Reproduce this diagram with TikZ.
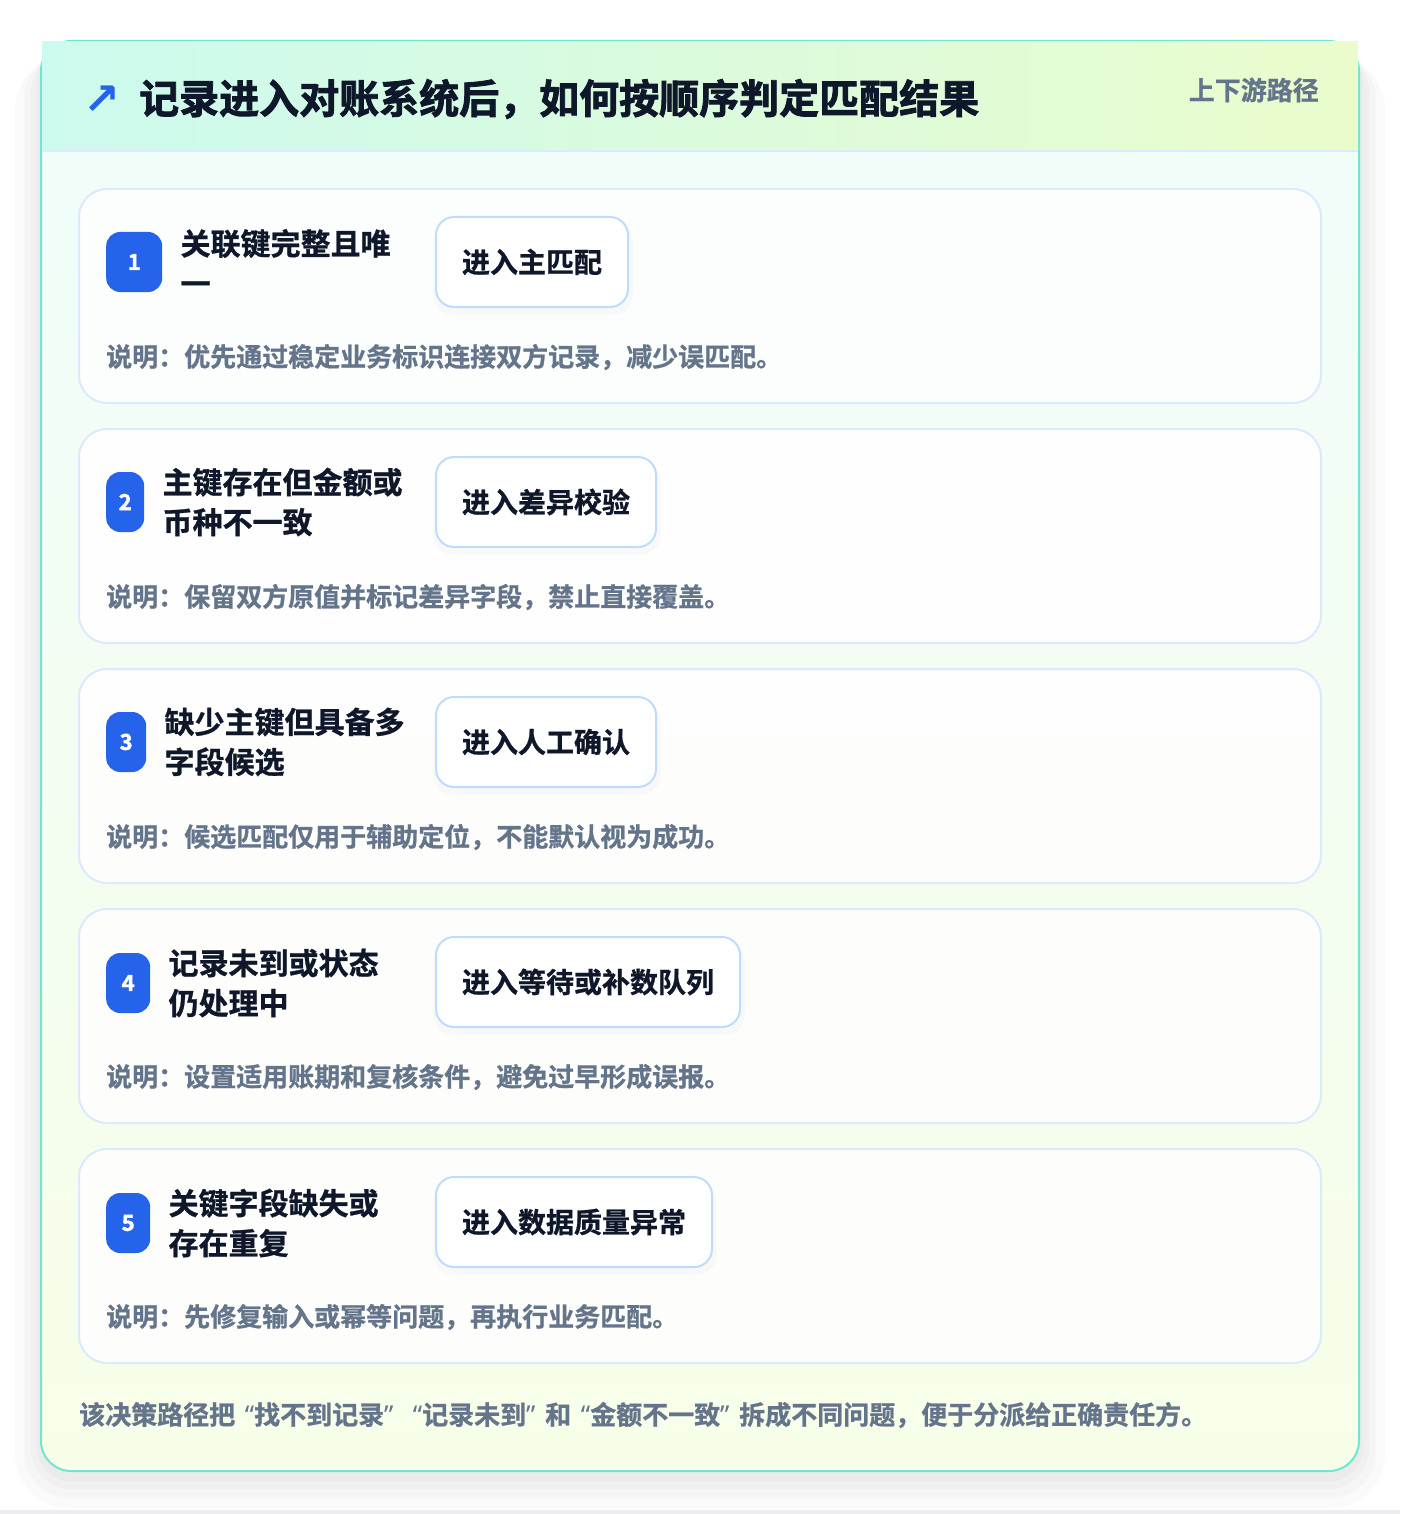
\documentclass[tikz,border=0pt]{standalone}
\usepackage{fontspec}
\setmainfont{Noto Sans CJK SC}[BoldFont={Noto Sans CJK SC Bold}, BoldFeatures={FakeBold=0.9}]
\newfontfamily\heavyfont{Noto Sans CJK SC Bold}[FakeBold=2]
\newfontfamily\symfont{DejaVu Sans Bold}
\newfontfamily\quotefont{Noto Sans}[BoldFeatures={FakeBold=0.9}]
\usetikzlibrary{positioning}

\definecolor{cardline}{RGB}{219,234,254}
\definecolor{actline}{RGB}{191,219,254}
\definecolor{badgeblue}{RGB}{37,99,235}
\definecolor{inktext}{RGB}{15,23,42}
\definecolor{mutetext}{RGB}{100,116,139}
\definecolor{frameteal}{RGB}{110,231,210}
\definecolor{headleft}{RGB}{204,250,238}
\definecolor{headright}{RGB}{234,252,204}
\definecolor{bodytop}{RGB}{240,253,249}
\definecolor{bodybottom}{RGB}{247,254,232}
\definecolor{pagefoot}{RGB}{236,237,241}

\newcommand{\openq}{\makebox[19pt][r]{\quotefont\bfseries “}}
\newcommand{\closeq}{\makebox[19pt][l]{\quotefont\bfseries ”}}

\tikzset{
  card/.style={draw=cardline, line width=2pt, fill=white, fill opacity=0.85,
    rounded corners=28pt},
  badge/.style={fill=badgeblue, rounded corners=14pt, minimum height=60pt,
    inner sep=0pt, text=white, font=\heavyfont\fontsize{22}{24}\selectfont, anchor=west},
  rulelabel/.style={align=left, inner sep=0pt, text=inktext,
    font=\bfseries\fontsize{30}{40}\selectfont},
  action/.style={draw=actline, line width=2pt, fill=white, rounded corners=18pt,
    minimum height=90pt, inner xsep=26pt, text=inktext, anchor=west,
    font=\bfseries\fontsize{28}{34}\selectfont},
  note/.style={anchor=west, inner sep=0pt, text=mutetext,
    font=\bfseries\fontsize{26}{30}\selectfont},
  softshadow/.style={fill=black, opacity=0.018},
}

\begin{document}
\begin{tikzpicture}[x=1pt, y=-1pt]
  \useasboundingbox[fill=white] (0,0) rectangle (1400,1514);
  \fill[pagefoot] (0,1510) rectangle (1400,1514);

  % outer shadow
  \fill[softshadow, rounded corners=34pt] (37,49) rectangle (1363,1481);
  \fill[softshadow, rounded corners=40pt] (31,51) rectangle (1369,1489);
  \fill[softshadow, rounded corners=46pt] (24,53) rectangle (1376,1498);
  \fill[softshadow, rounded corners=54pt] (15,55) rectangle (1385,1508);

  % panel
  \begin{scope}
    \clip[rounded corners=30pt] (41,41) rectangle (1359,1471);
    \shade[top color=bodytop, bottom color=bodybottom] (41,151) rectangle (1359,1471);
  \end{scope}
  \draw[frameteal, line width=2pt, rounded corners=30pt] (41,41) rectangle (1359,1471);
  \shade[left color=headleft, right color=headright] (42,42) rectangle (1358,151);
  \draw[cardline, line width=2pt] (42,151) -- (1358,151);

  % header
  \node[text=badgeblue, font=\symfont\fontsize{44}{44}\selectfont, inner sep=0pt] (icon) at (102,100) {↗};
  \node[anchor=west, inner sep=0pt, text=inktext, font=\heavyfont\fontsize{40}{48}\selectfont]
    (title) at (139,99) {记录进入对账系统后，如何按顺序判定匹配结果};
  \node[anchor=east, inner sep=0pt, text=mutetext, font=\bfseries\fontsize{26}{30}\selectfont]
    (tag) at (1319,90) {上下游路径};

  % cards
  \draw[card] (79,189) rectangle (1321,403);
  \draw[card] (79,429) rectangle (1321,643);
  \draw[card] (79,669) rectangle (1321,883);
  \draw[card] (79,909) rectangle (1321,1123);
  \draw[card] (79,1149) rectangle (1321,1363);

  % action shadows
  \fill[softshadow, rounded corners=20pt] (433,223) rectangle (633,315);
  \fill[softshadow, rounded corners=20pt] (433,463) rectangle (661,555);
  \fill[softshadow, rounded corners=20pt] (433,703) rectangle (661,795);
  \fill[softshadow, rounded corners=20pt] (433,943) rectangle (745,1035);
  \fill[softshadow, rounded corners=20pt] (433,1183) rectangle (717,1275);

  % rule 1
  \node[badge, minimum width=56pt] (b1) at (106,262) {1};
  \node[rulelabel, right=18pt of b1] (r1) {关联键完整且唯\\一};
  \node[action] (a1) at (435,262) {进入主匹配};
  \node[note] (n1) at (106,357) {说明：优先通过稳定业务标识连接双方记录，减少误匹配。};

  % rule 2
  \node[badge, minimum width=38pt] (b2) at (106,502) {2};
  \node[rulelabel, right=18pt of b2] (r2) {主键存在但金额或\\币种不一致};
  \node[action] (a2) at (435,502) {进入差异校验};
  \node[note] (n2) at (106,597) {说明：保留双方原值并标记差异字段，禁止直接覆盖。};

  % rule 3
  \node[badge, minimum width=40pt] (b3) at (106,742) {3};
  \node[rulelabel, right=18pt of b3] (r3) {缺少主键但具备多\\字段候选};
  \node[action] (a3) at (435,742) {进入人工确认};
  \node[note] (n3) at (106,837) {说明：候选匹配仅用于辅助定位，不能默认视为成功。};

  % rule 4
  \node[badge, minimum width=44pt] (b4) at (106,983) {4};
  \node[rulelabel, right=18pt of b4] (r4) {记录未到或状态\\仍处理中};
  \node[action] (a4) at (435,982) {进入等待或补数队列};
  \node[note] (n4) at (106,1077) {说明：设置适用账期和复核条件，避免过早形成误报。};

  % rule 5
  \node[badge, minimum width=44pt] (b5) at (106,1223) {5};
  \node[rulelabel, right=18pt of b5] (r5) {关键字段缺失或\\存在重复};
  \node[action] (a5) at (435,1222) {进入数据质量异常};
  \node[note] (n5) at (106,1317) {说明：先修复输入或幂等问题，再执行业务匹配。};

  % footer
  \node[note] (foot) at (79,1415) {该决策路径把\openq 找不到记录\closeq\openq 记录未到\closeq 和\openq 金额不一致\closeq 拆成不同问题，便于分派给正确责任方。};
\end{tikzpicture}
\end{document}
